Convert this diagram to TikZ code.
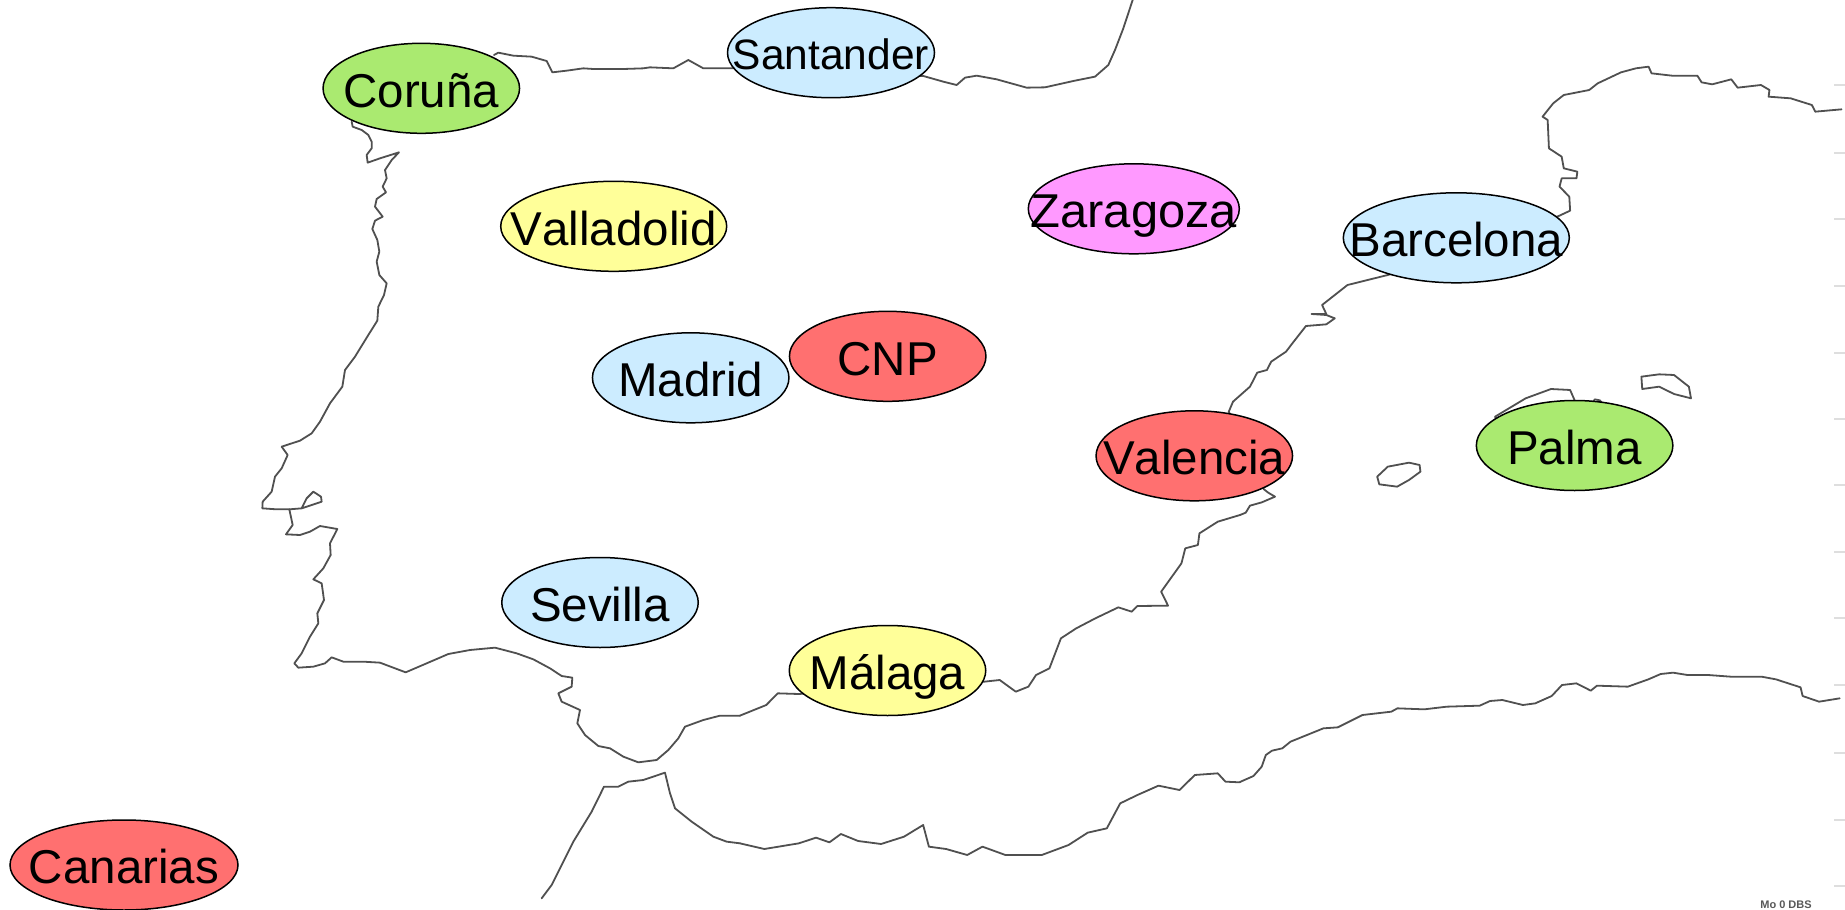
\documentclass[tikz,border=0pt]{standalone}
\usepackage{fontspec}
\setmainfont[Kerning=Off]{Liberation Sans}
\usetikzlibrary{shapes.geometric}
\definecolor{cgreen}{HTML}{AAEA70}
\definecolor{cblue}{HTML}{CCECFF}
\definecolor{cyellow}{HTML}{FFFF99}
\definecolor{cred}{HTML}{FF7070}
\definecolor{cpink}{HTML}{FF99FF}
\definecolor{coastc}{HTML}{505050}
\newcommand{\cname}[2][1]{\makebox[0pt][c]{\scalebox{#1}[1]{#2}}}
\tikzset{
  city/.style={ellipse,draw=black,line width=1.5pt,inner sep=0pt,outer sep=0pt,
    minimum width=196.5pt,minimum height=90pt,text=black,font=\fontsize{47.5}{50}\selectfont,
    text height=37.5pt,text depth=0pt},
  coast/.style={draw=coastc,line width=1.8pt,line join=round,line cap=round},
  zA/.style={shift={(240pt,0pt)},x=0.33333pt,y=0.33333pt},
  zB/.style={shift={(240pt,440pt)},x=0.33333pt,y=0.33333pt},
  zC/.style={shift={(700pt,0pt)},x=0.33333pt,y=0.33333pt},
  zD/.style={shift={(1180pt,40pt)},x=0.42406pt,y=0.33333pt},
  zE/.style={shift={(640pt,440pt)},x=0.38265pt,y=0.33333pt},
  zF/.style={shift={(1200pt,640pt)},x=0.41135pt,y=0.33333pt},
  tick/.style={draw=black!13,line width=2.5pt}
}
\begin{document}
\begin{tikzpicture}[x=1pt,y=1pt,yscale=-1]
\useasboundingbox (0,0) rectangle (1845,910);
\fill[white] (0,0) rectangle (1845,910);
\foreach \yy in {85,153,219,286,353,419,485,552,618,685,753,820,886}
  \draw[tick] (1834,\yy) -- (1845,\yy);
\begin{scope}[zA]
\draw[coast] (335,365)--(338,380)--(365,390)--(385,405)--(395,425)--(395,445)--(380,465)--(383,488)--(420,475)--(477,457)--(455,480)--(435,510)--(440,535)--(428,560)--(438,577)--(410,597)--(405,620)--(428,650)--(405,662)--(397,687)--(412,720)--(418,755)--(410,785)--(418,825)--(440,850)--(432,885)--(415,920)--(412,962)--(385,1005)--(345,1070)--(315,1110)--(307,1160)--(270,1210)--(240,1265)--(215,1300)--(180,1322)--(125,1340);
\draw[coast] (762,165)--(775,158)--(820,167)--(875,170)--(920,183)--(937,217)--(980,212)--(1030,205)--(1060,207)--(1150,207)--(1210,205)--(1230,202)--(1300,205)--(1345,180)--(1390,205)--(1500,205);
\end{scope}
\begin{scope}[zB]
\draw[coast] (125,20)--(143,45)--(125,85)--(105,110)--(95,155)--(68,185)--(67,205)--(110,208)--(148,208)--(158,255)--(138,283)--(180,285)--(210,275)--(240,258)--(292,267)--(270,310)--(272,345)--(250,385)--(220,418)--(245,430)--(252,480)--(232,520)--(235,550)--(210,590)--(185,640)--(163,670)--(175,683)--(220,680)--(255,670)--(275,652)--(310,665)--(370,665)--(420,668)--(497,697)--(560,670)--(625,642)--(690,630)--(765,623)--(830,640)--(880,658)--(930,685)--(965,708)--(997,713)--(995,740)--(955,760)--(965,785)--(1020,810)--(1012,850)--(1035,885)--(1075,918)--(1110,925)--(1150,950)--(1195,967)--(1250,960)--(1285,930)--(1315,895)--(1335,860)--(1390,840)--(1440,827)--(1500,827);
\draw[coast] (148,208)--(185,205)--(200,175)--(220,155)--(243,170)--(245,185)--(185,205);
\draw[coast] (905,1375)--(935,1335)--(1000,1205)--(1055,1115)--(1092,1040)--(1135,1040)--(1165,1025)--(1210,1020)--(1275,998)--(1290,1060)--(1305,1105)--(1355,1145)--(1420,1190)--(1460,1205)--(1500,1210);
\end{scope}
\begin{scope}[zC]
\draw[coast] (120,205)--(670,228)--(730,245)--(770,255)--(795,233)--(830,227)--(890,238)--(980,263)--(1035,262)--(1120,243)--(1185,230)--(1225,195)--(1245,150)--(1270,85)--(1298,0);
\end{scope}
\begin{scope}[zE]
\draw[coast] (261,827)--(330,795)--(360,760)--(415,762)--(900,725)--(940,720)--(982,755)--(1015,740)--(1035,705)--(1070,685)--(1100,595)--(1140,565)--(1190,535)--(1250,502)--(1285,515)--(1300,498)--(1380,497)--(1362,455)--(1415,370)--(1425,325)--(1458,315)--(1462,280)--(1510,245)--(1568,225);
\draw[coast] (261,1210)--(325,1227)--(415,1210)--(460,1193)--(495,1207)--(525,1182)--(570,1203)--(630,1212)--(690,1190)--(740,1155)--(755,1220)--(800,1227)--(855,1245)--(895,1220)--(955,1245)--(1050,1245)--(1120,1215)--(1170,1178)--(1220,1165)--(1255,1090)--(1300,1065)--(1355,1037)--(1410,1050)--(1450,1005)--(1510,1000)--(1530,1025)--(1568,1027);
\end{scope}
\begin{scope}[zF]
\draw[coast] (97,426)--(130,408)--(150,380)--(160,345)--(175,332)--(200,325)--(220,305)--(300,265)--(335,262)--(395,225)--(465,215)--(480,205)--(545,208)--(600,200)--(680,197)--(705,183)--(735,180)--(785,195)--(815,190)--(855,168)--(880,135)--(915,130)--(950,152)--(965,137)--(1040,140)--(1090,118)--(1120,102)--(1150,98)--(1185,105)--(1235,105)--(1290,110)--(1365,110)--(1400,118)--(1460,142)--(1465,168)--(1505,185)--(1555,175);
\end{scope}
\begin{scope}[zD]
\draw[coast] (141.5,1425)--(155,1418)--(165,1397)--(193,1387)--(224,1370)--(208,1358)--(198,1348)--(115,1115)--(125,1085)--(165,1040)--(182,998)--(205,990)--(215,965)--(250,935)--(265,910)--(297,858)--(345,853)--(365,835)--(345,825)--(310,822)--(345,822)--(335,795)--(395,735)--(490,705)--(893,528)--(920,512)--(918,470)--(895,440)--(900,415)--(935,415)--(937,395)--(905,385)--(900,350)--(870,325)--(867,240)--(855,230)--(880,190)--(905,165)--(965,150)--(985,130)--(1040,97)--(1075,85)--(1105,80)--(1112,100)--(1160,107)--(1220,107)--(1230,127)--(1255,133)--(1300,118)--(1315,143)--(1370,135)--(1390,150)--(1388,170)--(1440,175)--(1490,195)--(1498,215)--(1560,208);
\draw[coast] (743,1130)--(815,1075)--(875,1047)--(920,1050)--(932,1085)--(975,1085)--(978,1078)--(990,1081)--(1000,1095)--(1000,1200)--(760,1200)--cycle;
\draw[coast] (1088,1010)--(1130,1003)--(1165,1005)--(1200,1040)--(1205,1075)--(1165,1062)--(1130,1040)--(1090,1047)--cycle;
\draw[coast] (465,1310)--(490,1280)--(540,1268)--(565,1275)--(567,1295)--(540,1320)--(512,1340)--(470,1333)--cycle;
\end{scope}
\node[city,fill=cgreen] (coruna) at (421.3,88.3) {\cname{Coruña}};
\node[city,fill=cyellow,minimum width=226pt] (valladolid) at (613.7,226.3) {\cname{Valladolid}};
\node[city,fill=cblue] (madrid) at (690.7,377.8) {\cname{Madrid}};
\node[city,fill=cblue,minimum width=207pt,font=\fontsize{42.5}{46}\selectfont,text height=33.5pt] (santander) at (831,52.7) {\cname{Santander}};
\node[city,fill=cpink,minimum width=211pt] (zaragoza) at (1133.8,208.8) {\cname[1.03]{Zaragoza}};
\node[city,fill=cred] (cnp) at (887.7,356.3) {\cname{CNP}};
\node[city,fill=cblue,minimum width=226pt] (barcelona) at (1456.3,237.8) {\cname{Barcelona}};
\node[city,fill=cred] (valencia) at (1194.3,455.8) {\cname{Valencia}};
\node[city,fill=cgreen] (palma) at (1574.6,445.5) {\cname{Palma}};
\node[city,fill=cblue] (sevilla) at (600,602.5) {\cname{Sevilla}};
\node[city,fill=cyellow] (malaga) at (887.5,670.5) {\cname{Málaga}};
\node[city,fill=cred,minimum width=228pt] (canarias) at (124,865) {\cname{Canarias}};
\node[font=\fontsize{11}{11}\selectfont\bfseries,text=black!65,inner sep=0pt] (mark) at (1786,904.5) {Mo 0 DBS};
\end{tikzpicture}
\end{document}
